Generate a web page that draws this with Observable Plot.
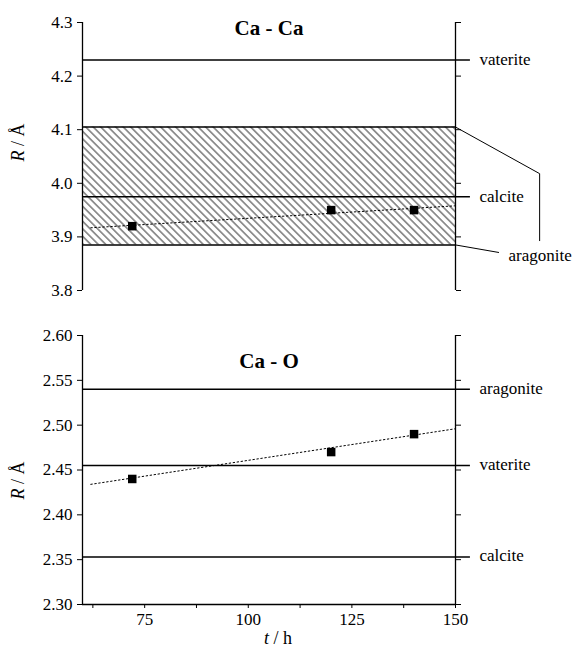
<!DOCTYPE html>
<html><head><meta charset="utf-8">
<script src="https://cdn.jsdelivr.net/npm/d3@7"></script>
<script src="https://cdn.jsdelivr.net/npm/@observablehq/plot@0.6"></script>
<style>
body{margin:0;background:#fff}
#chart{position:relative;width:573px;height:657px;background:#fff}
#chart svg{position:absolute;left:0}
</style>
</head><body><div id="chart"></div>
<script>
// ---- data ----
const timeHours = [72, 120, 140];
const caCaR = [3.92, 3.95, 3.95];
const caOR = [2.44, 2.47, 2.49];
const fitT = [62, 150];
const caCaFitR = [3.917, 3.958];
const caOFitR = [2.434, 2.496];
const caCaRefNames = ["vaterite", "calcite"];
const caCaRefR = [4.23, 3.975];
const aragoniteBand = [3.885, 4.105];
const caORefNames = ["aragonite", "vaterite", "calcite"];
const caORefR = [2.54, 2.455, 2.353];
const caCaTicks = [3.8, 3.9, 4.0, 4.1, 4.2, 4.3];
const caOTicks = [2.30, 2.35, 2.40, 2.45, 2.50, 2.55, 2.60];
const xTicks = [75, 100, 125, 150];
const xMinorTicks = [62.5, 87.5, 112.5, 137.5];
const xDomain = [60, 150];
const leaderEnd = 153.6;
const bracketUpper = [{t:150, r:4.105}, {t:170.3, r:4.018}, {t:170.3, r:3.893}];
const bracketLower = [{t:150, r:3.885}, {t:160.4, r:3.871}];

const FONT = "Liberation Serif";
const pts = (rs) => timeHours.map((t, i) => ({t, r: rs[i]}));
const fit = (rs) => fitT.map((t, i) => ({t, r: rs[i]}));
const refs = (names, rs) => names.map((name, i) => ({name, r: rs[i]}));

function italicize(svg, cls, html) {
  d3.select(svg).selectAll("." + cls + " text").html(html);
}
function setFont(svg) {
  d3.select(svg).attr("font-family", FONT).style("font-family", FONT);
  d3.select(svg).selectAll("g, text").attr("font-family", null).style("font-family", FONT);
}

// ---- top panel: Ca - Ca ----
const topPlot = Plot.plot({
  width: 573, height: 300,
  marginLeft: 82, marginRight: 118, marginTop: 22, marginBottom: 10,
  style: {background: "#fff", color: "#000"},
  x: {domain: xDomain, axis: null},
  y: {domain: [3.8, 4.3]},
  marks: [
    Plot.rect([aragoniteBand], {x1: xDomain[0], x2: xDomain[1], y1: d => d[0], y2: d => d[1], fill: "url(#hatch)"}),
    Plot.ruleY(aragoniteBand, {x1: xDomain[0], x2: xDomain[1], strokeWidth: 1.5}),
    Plot.ruleY(caCaRefR, {x1: xDomain[0], x2: leaderEnd, strokeWidth: 1.5}),
    Plot.text(refs(caCaRefNames, caCaRefR), {x: xDomain[1], y: "r", text: "name", dx: 24, textAnchor: "start", fontSize: 17}),
    Plot.line(bracketUpper, {x: "t", y: "r", strokeWidth: 1}),
    Plot.line(bracketLower, {x: "t", y: "r", strokeWidth: 1}),
    Plot.text(["aragonite"], {x: xDomain[1], y: aragoniteBand[0], text: d => d, dx: 53, dy: 11, textAnchor: "start", fontSize: 17}),
    Plot.line(fit(caCaFitR), {x: "t", y: "r", strokeWidth: 1, strokeDasharray: "1.5,2.5"}),
    Plot.dot(pts(caCaR), {x: "t", y: "r", symbol: "square", r: 4.8, fill: "#000"}),
    Plot.ruleX(xDomain, {y1: 3.8, y2: 4.3, strokeWidth: 1.3}),
    Plot.axisY({anchor: "left", ticks: caCaTicks, tickFormat: d => d.toFixed(1), tickSize: 5, tickPadding: 5, fontSize: 17, label: null}),
    Plot.axisY({anchor: "right", ticks: caCaTicks, tickFormat: () => "", tickSize: 5, label: null}),
    Plot.text(["Ca - Ca"], {frameAnchor: "top", lineAnchor: "top", text: d => d, dy: -2, fontSize: 21, fontWeight: "bold"}),
    Plot.text(["R / Å"], {frameAnchor: "left", textAnchor: "middle", lineAnchor: "middle", text: d => d, dx: -64, dy: -14, rotate: -90, fontSize: 18, className: "ylab"})
  ]
});
d3.select(topPlot).insert("defs", ":first-child").html(
  '<pattern id="hatch" patternUnits="userSpaceOnUse" width="5.3" height="5.3" patternTransform="rotate(-45)">' +
  '<line x1="2.65" y1="-1" x2="2.65" y2="6.3" stroke="#333" stroke-width="1"/></pattern>');
italicize(topPlot, "ylab", '<tspan font-style="italic">R</tspan> / Å');
setFont(topPlot);
topPlot.style.top = "0px";

// ---- bottom panel: Ca - O ----
const bottomPlot = Plot.plot({
  width: 573, height: 357,
  marginLeft: 82, marginRight: 118, marginTop: 35, marginBottom: 53,
  style: {background: "#fff", color: "#000"},
  x: {domain: xDomain},
  y: {domain: [2.30, 2.60]},
  marks: [
    Plot.ruleY(caORefR, {x1: xDomain[0], x2: leaderEnd, strokeWidth: 1.5}),
    Plot.text(refs(caORefNames, caORefR), {x: xDomain[1], y: "r", text: "name", dx: 24, dy: -1, textAnchor: "start", fontSize: 17}),
    Plot.line(fit(caOFitR), {x: "t", y: "r", strokeWidth: 1, strokeDasharray: "1.5,2.5"}),
    Plot.dot(pts(caOR), {x: "t", y: "r", symbol: "square", r: 4.8, fill: "#000"}),
    Plot.ruleX(xDomain, {y1: 2.30, y2: 2.60, strokeWidth: 1.3}),
    Plot.ruleY([2.30], {x1: xDomain[0], x2: xDomain[1], strokeWidth: 1.3}),
    Plot.axisY({anchor: "left", ticks: caOTicks, tickFormat: d => d.toFixed(2), tickSize: 5, tickPadding: 5, fontSize: 17, label: null}),
    Plot.axisY({anchor: "right", ticks: caOTicks, tickFormat: () => "", tickSize: 5, label: null}),
    Plot.axisX({ticks: xTicks, tickSize: 4, tickPadding: 4, fontSize: 17, label: null}),
    Plot.axisX({ticks: xMinorTicks, tickSize: 4, tickFormat: () => "", label: null}),
    Plot.text(["Ca - O"], {frameAnchor: "top", lineAnchor: "top", text: d => d, dy: 18, fontSize: 21, fontWeight: "bold"}),
    Plot.text(["R / Å"], {frameAnchor: "left", textAnchor: "middle", lineAnchor: "middle", text: d => d, dx: -64, dy: 10.5, rotate: -90, fontSize: 18, className: "ylab"}),
    Plot.text(["t / h"], {frameAnchor: "bottom", lineAnchor: "middle", textAnchor: "middle", text: d => d, dx: 9, dy: 34, fontSize: 18, className: "xlab"})
  ]
});
italicize(bottomPlot, "ylab", '<tspan font-style="italic">R</tspan> / Å');
italicize(bottomPlot, "xlab", '<tspan font-style="italic">t</tspan> / h');
setFont(bottomPlot);
bottomPlot.style.top = "300px";

const chart = document.getElementById("chart");
chart.appendChild(topPlot);
chart.appendChild(bottomPlot);
</script>
</body></html>
